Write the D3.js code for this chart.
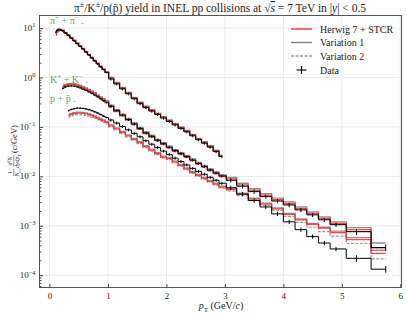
<!DOCTYPE html>
<html>
<head>
<meta charset="utf-8">
<script src="https://cdn.jsdelivr.net/npm/d3@7"></script>
<style>
  body { margin: 0; background: #fff; }
  text { font-family: "Liberation Serif", "DejaVu Serif", serif; fill: #222; }
</style>
</head>
<body>
<div id="chart"></div>
<script>
// bin centres (GeV/c), shared by all species
var ptCenters = [0.11, 0.13, 0.15, 0.17, 0.19, 0.225, 0.275, 0.325, 0.375, 0.425, 0.475, 0.525, 0.575, 0.625, 0.675, 0.725, 0.775, 0.825, 0.875, 0.925, 0.975,
  1.05, 1.15, 1.25, 1.35, 1.45, 1.55, 1.65, 1.75, 1.85, 1.95, 2.05, 2.15, 2.25, 2.35, 2.45, 2.55, 2.65, 2.75, 2.85, 2.95,
  3.1, 3.3, 3.5, 3.7, 3.9, 4.1, 4.3, 4.5, 4.7, 4.9, 5.25, 5.75];
// relative uncertainty of the data in each bin
var dataRelErr = [0.04, 0.04, 0.04, 0.04, 0.04, 0.04, 0.04, 0.04, 0.04, 0.04, 0.04, 0.04, 0.04, 0.04, 0.04, 0.04, 0.04, 0.04, 0.04, 0.04, 0.04,
  0.07, 0.07, 0.07, 0.07, 0.07, 0.07, 0.07, 0.07, 0.07, 0.07, 0.07, 0.07, 0.07, 0.07, 0.07, 0.07, 0.07, 0.07, 0.07, 0.07,
  0.1, 0.1, 0.1, 0.1, 0.1, 0.1, 0.1, 0.1, 0.1, 0.1, 0.15, 0.15];

// pi+ + pi-  (first 41 bins)
var pionData = [8.32, 9.02, 9.33, 9.33, 9.23, 8.81, 7.94, 7.08, 6.24, 5.50, 4.84, 4.27, 3.76, 3.27, 2.85, 2.48, 2.16, 1.88, 1.64, 1.45, 1.26,
  0.933, 0.741, 0.589, 0.468, 0.372, 0.295, 0.245, 0.209, 0.178, 0.151, 0.129, 0.110, 0.0933, 0.0794, 0.0661, 0.0550, 0.0468, 0.0389, 0.0316, 0.0251];
var pionHerwig = [7.24, 8.22, 8.71, 8.91, 9.02, 9.02, 8.13, 7.24, 6.38, 5.62, 4.95, 4.37, 3.85, 3.35, 2.92, 2.54, 2.21, 1.93, 1.68, 1.48, 1.29,
  0.966, 0.767, 0.610, 0.484, 0.385, 0.305, 0.254, 0.216, 0.184, 0.157, 0.133, 0.114, 0.0966, 0.0822, 0.0684, 0.0569, 0.0484, 0.0403, 0.0327, 0.0260];
var pionVar1 = [7.59, 8.61, 9.12, 9.66, 9.55, 9.12, 8.22, 7.33, 6.46, 5.69, 5.01, 4.42, 3.89, 3.39, 2.95, 2.57, 2.24, 1.95, 1.70, 1.50, 1.30,
  1.00, 0.794, 0.631, 0.501, 0.398, 0.316, 0.263, 0.224, 0.191, 0.162, 0.138, 0.117, 0.100, 0.0851, 0.0708, 0.0589, 0.0501, 0.0417, 0.0339, 0.0269];
var pionVar2 = [7.41, 8.41, 9.02, 9.44, 9.33, 8.91, 8.04, 7.16, 6.31, 5.56, 4.90, 4.32, 3.80, 3.31, 2.88, 2.51, 2.19, 1.91, 1.66, 1.46, 1.27,
  0.977, 0.776, 0.617, 0.490, 0.389, 0.309, 0.257, 0.219, 0.186, 0.158, 0.135, 0.115, 0.0977, 0.0832, 0.0692, 0.0575, 0.0490, 0.0407, 0.0331, 0.0263];

// K+ + K-  (bins 5..52)
var kaonData = [0.603, 0.646, 0.668, 0.676, 0.668, 0.646, 0.617, 0.582, 0.550, 0.513, 0.479, 0.442, 0.407, 0.372, 0.339, 0.309,
  0.263, 0.214, 0.174, 0.141, 0.115, 0.0933, 0.0759, 0.0646, 0.0537, 0.0457, 0.0389, 0.0331, 0.0288, 0.0251, 0.0214, 0.0182, 0.0158, 0.0135, 0.0117, 0.0102,
  0.00832, 0.00631, 0.00490, 0.00389, 0.00316, 0.00263, 0.00209, 0.00166, 0.00132, 0.00105, 0.000759, 0.000363];
var kaonHerwig = [0.646, 0.692, 0.716, 0.724, 0.716, 0.692, 0.661, 0.624, 0.589, 0.550, 0.513, 0.473, 0.427, 0.389, 0.355, 0.324,
  0.257, 0.209, 0.170, 0.138, 0.112, 0.0912, 0.0741, 0.0631, 0.0525, 0.0447, 0.0380, 0.0324, 0.0282, 0.0245, 0.0209, 0.0178, 0.0155, 0.0132, 0.0115, 0.0100,
  0.00891, 0.00676, 0.00525, 0.00417, 0.00339, 0.00282, 0.00224, 0.00178, 0.00141, 0.00112, 0.000832, 0.000355];
var kaonVar1 = [0.676, 0.724, 0.750, 0.759, 0.750, 0.724, 0.692, 0.653, 0.617, 0.575, 0.537, 0.495, 0.447, 0.407, 0.372, 0.339,
  0.275, 0.224, 0.182, 0.148, 0.120, 0.0977, 0.0794, 0.0676, 0.0562, 0.0479, 0.0407, 0.0347, 0.0302, 0.0263, 0.0224, 0.0191, 0.0166, 0.0141, 0.0123, 0.0107,
  0.00955, 0.00724, 0.00562, 0.00447, 0.00363, 0.00302, 0.00240, 0.00191, 0.00151, 0.00120, 0.000912, 0.000447];
var kaonVar2 = [0.661, 0.708, 0.733, 0.741, 0.733, 0.708, 0.676, 0.638, 0.603, 0.562, 0.525, 0.484, 0.437, 0.398, 0.363, 0.331,
  0.251, 0.204, 0.166, 0.135, 0.110, 0.0891, 0.0724, 0.0617, 0.0513, 0.0437, 0.0372, 0.0316, 0.0275, 0.0240, 0.0204, 0.0174, 0.0151, 0.0129, 0.0112, 0.00977,
  0.00851, 0.00646, 0.00501, 0.00398, 0.00324, 0.00269, 0.00214, 0.00170, 0.00135, 0.00107, 0.000759, 0.000316];

// p + pbar  (bins 7..52)
var protonData = [0.214, 0.226, 0.234, 0.240, 0.240, 0.237, 0.232, 0.224, 0.214, 0.202, 0.191, 0.178, 0.166, 0.155,
  0.138, 0.120, 0.102, 0.0871, 0.0741, 0.0631, 0.0525, 0.0447, 0.0380, 0.0324, 0.0275, 0.0234, 0.0200, 0.0170, 0.0145, 0.0126, 0.0110, 0.00955, 0.00832, 0.00724,
  0.00589, 0.00437, 0.00324, 0.00240, 0.00174, 0.00120, 0.000832, 0.000603, 0.000447, 0.000339, 0.000219, 0.000132];
var protonHerwig = [0.170, 0.180, 0.186, 0.191, 0.191, 0.188, 0.184, 0.178, 0.170, 0.160, 0.151, 0.141, 0.132, 0.123,
  0.105, 0.0912, 0.0776, 0.0661, 0.0562, 0.0479, 0.0398, 0.0339, 0.0288, 0.0245, 0.0229, 0.0195, 0.0166, 0.0141, 0.0120, 0.0105, 0.00912, 0.00794, 0.00692, 0.00603,
  0.00537, 0.00437, 0.00347, 0.00275, 0.00219, 0.00170, 0.00132, 0.00107, 0.000891, 0.000724, 0.000525, 0.000275];
var protonVar1 = [0.178, 0.188, 0.195, 0.200, 0.200, 0.197, 0.193, 0.186, 0.178, 0.168, 0.158, 0.148, 0.138, 0.129,
  0.110, 0.0955, 0.0813, 0.0692, 0.0589, 0.0501, 0.0417, 0.0355, 0.0302, 0.0257, 0.0240, 0.0204, 0.0174, 0.0148, 0.0126, 0.0110, 0.00955, 0.00832, 0.00724, 0.00631,
  0.00562, 0.00457, 0.00363, 0.00288, 0.00229, 0.00178, 0.00138, 0.00112, 0.000933, 0.000776, 0.000575, 0.000316];
var protonVar2 = [0.158, 0.168, 0.174, 0.178, 0.178, 0.176, 0.172, 0.166, 0.158, 0.150, 0.141, 0.132, 0.123, 0.115,
  0.100, 0.0871, 0.0741, 0.0631, 0.0537, 0.0457, 0.0380, 0.0324, 0.0275, 0.0234, 0.0219, 0.0186, 0.0158, 0.0135, 0.0115, 0.0100, 0.00871, 0.00759, 0.00661, 0.00575,
  0.00501, 0.00407, 0.00324, 0.00257, 0.00204, 0.00155, 0.00117, 0.000933, 0.000759, 0.000617, 0.000437, 0.000214];

var species = [
  { first: 0, data: pionData, herwig: pionHerwig, var1: pionVar1, var2: pionVar2 },
  { first: 5, data: kaonData, herwig: kaonHerwig, var1: kaonVar1, var2: kaonVar2 },
  { first: 7, data: protonData, herwig: protonHerwig, var1: protonVar1, var2: protonVar2 },
];

var xTicks = [0, 1, 2, 3, 4, 5, 6];
var yTicks = [1e-4, 1e-3, 1e-2, 1e-1, 1, 10];
var yTickExp = ["\u22124", "\u22123", "\u22122", "\u22121", "0", "1"];

var svgWidth = 407;
var svgHeight = 314;
var margin = { top: 15.5, right: 5.5, bottom: 26.5, left: 39.5 };
var width = svgWidth - margin.left - margin.right;
var height = svgHeight - margin.top - margin.bottom;

var svg = d3.select("#chart").append("svg")
  .attr("width", svgWidth)
  .attr("height", svgHeight);

var chartGroup = svg.append("g")
  .attr("transform", `translate(${margin.left}, ${margin.top})`);

var xScale = d3.scaleLinear().domain([-0.17, 6.02]).range([0, width]);
var yScale = d3.scaleLog().domain([Math.pow(10, -4.25), Math.pow(10, 1.255)]).range([height, 0]);

// writes a text made of plain / superscript / subscript / italic pieces
function richText(sel, parts, size) {
  var back = 0;
  parts.forEach(function (p) {
    var shift = p.sup ? -0.4 * size : (p.sub ? 0.25 * size : 0);
    var ts = sel.append("tspan").text(p.t);
    var dy = back + shift;
    if (dy) ts.attr("dy", dy);
    if (shift) ts.attr("font-size", size * 0.7);
    if (p.it) ts.attr("font-style", "italic");
    if (p.over) ts.style("text-decoration", "overline");
    back = -shift;
  });
}

// grid
var gridColor = "#e3e3e3";
chartGroup.append("g").selectAll("line").data(xTicks).enter().append("line")
  .attr("x1", d => xScale(d)).attr("x2", d => xScale(d))
  .attr("y1", 0).attr("y2", height)
  .attr("stroke", gridColor).attr("stroke-width", 0.8);
chartGroup.append("g").selectAll("line").data(yTicks).enter().append("line")
  .attr("x1", 0).attr("x2", width)
  .attr("y1", d => yScale(d)).attr("y2", d => yScale(d))
  .attr("stroke", gridColor).attr("stroke-width", 0.8);

// step curves (steps between bin centres)
var stepLine = d3.line()
  .x(d => xScale(d[0]))
  .y(d => yScale(d[1]))
  .curve(d3.curveStep);

function pts(sp, vals) {
  return vals.map((v, i) => [ptCenters[sp.first + i], v]);
}

var curves = chartGroup.append("g");
species.forEach(function (sp) {
  curves.append("path").datum(pts(sp, sp.var2)).attr("d", stepLine)
    .attr("fill", "none").attr("stroke", "#9a9a9a").attr("stroke-width", 1.2)
    .attr("stroke-dasharray", "3,1.5");
  curves.append("path").datum(pts(sp, sp.var1)).attr("d", stepLine)
    .attr("fill", "none").attr("stroke", "#7a7a7a").attr("stroke-width", 1.3)
    .attr("opacity", 0.85);
  curves.append("path").datum(pts(sp, sp.herwig)).attr("d", stepLine)
    .attr("fill", "none").attr("stroke", "#ff2020").attr("stroke-width", 1.2)
    .attr("opacity", 0.85);
});
species.forEach(function (sp) {
  var d = pts(sp, sp.data);
  curves.append("path").datum(d).attr("d", stepLine)
    .attr("fill", "none").attr("stroke", "#000").attr("stroke-width", 1.0);
  curves.append("g").selectAll("line").data(d).enter().append("line")
    .attr("x1", p => xScale(p[0])).attr("x2", p => xScale(p[0]))
    .attr("y1", (p, i) => yScale(p[1] * (1 + dataRelErr[sp.first + i])))
    .attr("y2", (p, i) => yScale(p[1] * (1 - dataRelErr[sp.first + i])))
    .attr("stroke", "#000").attr("stroke-width", 1.0);
});

// frame and ticks
chartGroup.append("rect").attr("width", width).attr("height", height)
  .attr("fill", "none").attr("stroke", "#444").attr("stroke-width", 0.9);

var xAxis = chartGroup.append("g")
  .attr("transform", `translate(0, ${height})`)
  .call(d3.axisBottom(xScale).tickValues(xTicks).tickSize(-3.5).tickPadding(5).tickFormat(d3.format("d")));
xAxis.select(".domain").remove();
xAxis.selectAll("line").attr("stroke", "#444");
xAxis.selectAll("text").attr("font-family", "'Liberation Serif', serif").attr("font-size", 9).attr("fill", "#222");

var minorY = [];
yTicks.forEach(function (t) {
  for (var k = 2; k <= 9; k++) {
    if (t * k < yScale.domain()[1]) minorY.push(t * k);
  }
});
minorY.push(6e-5, 7e-5, 8e-5, 9e-5);
var yAxis = chartGroup.append("g")
  .call(d3.axisLeft(yScale).tickValues(yTicks).tickSize(-3.5).tickFormat(""));
yAxis.select(".domain").remove();
yAxis.selectAll("line").attr("stroke", "#444");
var yMinor = chartGroup.append("g")
  .call(d3.axisLeft(yScale).tickValues(minorY).tickSize(-2).tickFormat(""));
yMinor.select(".domain").remove();
yMinor.selectAll("line").attr("stroke", "#444");

yTicks.forEach(function (t, i) {
  var lab = chartGroup.append("text")
    .attr("x", -4).attr("y", yScale(t) + 3)
    .attr("text-anchor", "end").attr("font-size", 9);
  richText(lab, [{ t: "10" }, { t: yTickExp[i], sup: true }], 9);
});

// species labels
var green = "#5aaa5a";
function speciesLabel(x, y, parts) {
  var t = svg.append("text").attr("x", x).attr("y", y).attr("font-size", 10).style("fill", green);
  richText(t, parts, 10);
}
speciesLabel(50, 24, [{ t: "\u03c0" }, { t: "+", sup: true }, { t: " + \u03c0" }, { t: "\u2212", sup: true }, { t: " ." }]);
speciesLabel(50, 83, [{ t: "K" }, { t: "+", sup: true }, { t: " + K" }, { t: "\u2212", sup: true }, { t: " ." }]);
speciesLabel(50, 102, [{ t: "p + p\u0304 ." }]);

// title
var title = svg.append("text").attr("x", 220).attr("y", 12)
  .attr("text-anchor", "middle").attr("font-size", 11.5);
richText(title, [
  { t: "\u03c0" }, { t: "\u00b1", sup: true }, { t: "/K" }, { t: "\u00b1", sup: true },
  { t: "/p(p\u0304) yield in INEL pp collisions at \u221a" }, { t: "s", it: true, over: true },
  { t: " = 7 TeV in |" }, { t: "y", it: true }, { t: "| < 0.5" }
], 11.5);

// x label
var xLabel = svg.append("text").attr("x", 221).attr("y", 309)
  .attr("text-anchor", "middle").attr("font-size", 10);
richText(xLabel, [{ t: "p", it: true }, { t: "T", sub: true }, { t: " (GeV/" }, { t: "c", it: true }, { t: ")" }], 10);

// y label: 1/N_ev d2N/dydpT (c/GeV)
var yl = svg.append("g").attr("transform", "translate(17, 151) rotate(-90)");
function frac(x0, num, den, w) {
  var n = yl.append("text").attr("x", x0 + w / 2).attr("y", -5).attr("text-anchor", "middle").attr("font-size", 6);
  richText(n, num, 6);
  var dd = yl.append("text").attr("x", x0 + w / 2).attr("y", 2).attr("text-anchor", "middle").attr("font-size", 6);
  richText(dd, den, 6);
  yl.append("line").attr("x1", x0).attr("x2", x0 + w).attr("y1", -3.2).attr("y2", -3.2)
    .attr("stroke", "#222").attr("stroke-width", 0.5);
}
frac(-25, [{ t: "1" }], [{ t: "N", it: true }, { t: "ev", sub: true }], 7);
frac(-16, [{ t: "d", it: true }, { t: "2", sup: true }, { t: "N", it: true }], [{ t: "dyd", it: true }, { t: "p", it: true }, { t: "T", sub: true }], 12);
var ylt = yl.append("text").attr("x", -2).attr("y", 0).attr("font-size", 8.5);
richText(ylt, [{ t: "(" }, { t: "c", it: true }, { t: "/GeV)" }], 8.5);

// legend
var legend = svg.append("g");
var legendRows = [
  { label: "Herwig 7 + STCR", y: 29, color: "#ff2020", dash: null },
  { label: "Variation 1", y: 42.5, color: "#7a7a7a", dash: null },
  { label: "Variation 2", y: 56, color: "#9a9a9a", dash: "3,1.5" },
  { label: "Data", y: 70, color: "#000", dash: null },
];
legendRows.forEach(function (r, i) {
  if (i < 3) {
    legend.append("line").attr("x1", 291).attr("x2", 312).attr("y1", r.y).attr("y2", r.y)
      .attr("stroke", r.color).attr("stroke-width", 1.3).attr("stroke-dasharray", r.dash);
  } else {
    legend.append("line").attr("x1", 296.5).attr("x2", 306.5).attr("y1", r.y).attr("y2", r.y)
      .attr("stroke", "#000").attr("stroke-width", 1.1);
    legend.append("line").attr("x1", 301.5).attr("x2", 301.5).attr("y1", r.y - 4).attr("y2", r.y + 4)
      .attr("stroke", "#000").attr("stroke-width", 1.1);
  }
  legend.append("text").attr("x", 320).attr("y", r.y + 3.5).attr("font-size", 10).text(r.label);
});
</script>
</body>
</html>
